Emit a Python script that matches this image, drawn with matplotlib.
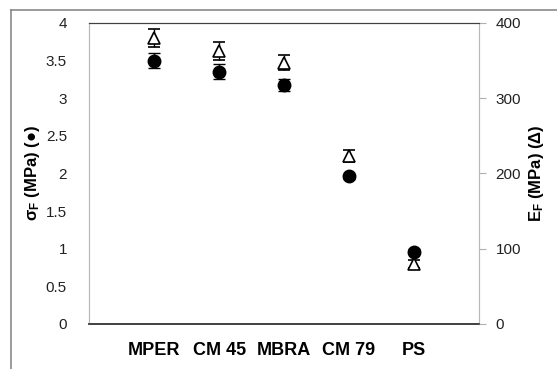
import numpy as np
import matplotlib
matplotlib.use("Agg")
import matplotlib.pyplot as plt
from matplotlib.lines import Line2D

plt.rcParams['font.family'] = ['Liberation Sans', 'DejaVu Sans']
plt.rcParams['mathtext.fontset'] = 'custom'
plt.rcParams['mathtext.rm'] = 'Liberation Sans'
plt.rcParams['mathtext.bf'] = 'Liberation Sans:bold'
plt.rcParams['mathtext.it'] = 'Liberation Sans:italic'

# data
samples = ["MPER", "CM 45", "MBRA", "CM 79", "PS"]
sigma_f = [3.50, 3.35, 3.18, 1.96, 0.96]
sigma_err = [0.10, 0.10, 0.08, 0.03, 0.03]
e_f = [380, 363, 347, 223, 80]
e_err = [12, 12, 10, 8, 5]

x = np.arange(1, len(samples) + 1)

fig = plt.figure(figsize=(5.57, 3.69), dpi=100)
ax = fig.add_axes([0.160, 0.122, 0.700, 0.816])
ax2 = ax.twinx()

# outer chart-area border (runs off the right and bottom edges)
bx = 10.5 / 557
by = 1 - 9.5 / 369
fig.add_artist(Line2D([bx, bx], [-0.05, by], transform=fig.transFigure,
                      color='#808080', linewidth=1.1, clip_on=False))
fig.add_artist(Line2D([bx, 1.05], [by, by], transform=fig.transFigure,
                      color='#808080', linewidth=1.1, clip_on=False))

ax.errorbar(x, sigma_f, yerr=sigma_err, fmt='o', color='black', markersize=9,
            ecolor='black', elinewidth=1, capsize=4, capthick=1, zorder=3)
ax2.errorbar(x, e_f, yerr=e_err, fmt='^', color='black', markerfacecolor='white',
             markeredgecolor='black', markersize=9, markeredgewidth=1.2,
             ecolor='black', elinewidth=1, capsize=4, capthick=1, zorder=3)

ax.set_xlim(0, 6)
ax.set_ylim(0, 4)
ax2.set_ylim(0, 400)
ax.set_yticks(np.arange(0, 4.01, 0.5))
ax.set_yticklabels(["0", "0.5", "1", "1.5", "2", "2.5", "3", "3.5", "4"])
ax2.set_yticks([0, 100, 200, 300, 400])

ax.set_xticks(x)
ax.set_xticklabels(samples, fontsize=13, fontweight='bold')
ax.tick_params(axis='x', length=0, pad=13)
ax.tick_params(axis='y', length=0, labelsize=11, pad=16, labelcolor='#222222')
ax2.tick_params(axis='y', length=5, color='#b0b0b0', labelsize=11, pad=7,
                labelcolor='#222222')

for a in (ax, ax2):
    a.spines['left'].set_color('#b8b8b8')
    a.spines['right'].set_color('#b8b8b8')
    a.spines['top'].set_color('#404040')
    a.spines['bottom'].set_color('#404040')
    a.spines['bottom'].set_linewidth(1.2)

fig.text(33 / 557, 1 - 173 / 369, r'$\mathbf{σ_F}$ (MPa) (●)', rotation=90,
         fontsize=12, fontweight='bold', ha='center', va='center')
fig.text(536 / 557, 1 - 173 / 369, r'$\mathbf{E_F}$ (MPa) (Δ)', rotation=90,
         fontsize=12, fontweight='bold', ha='center', va='center')

fig.savefig("out.png", dpi=100)
